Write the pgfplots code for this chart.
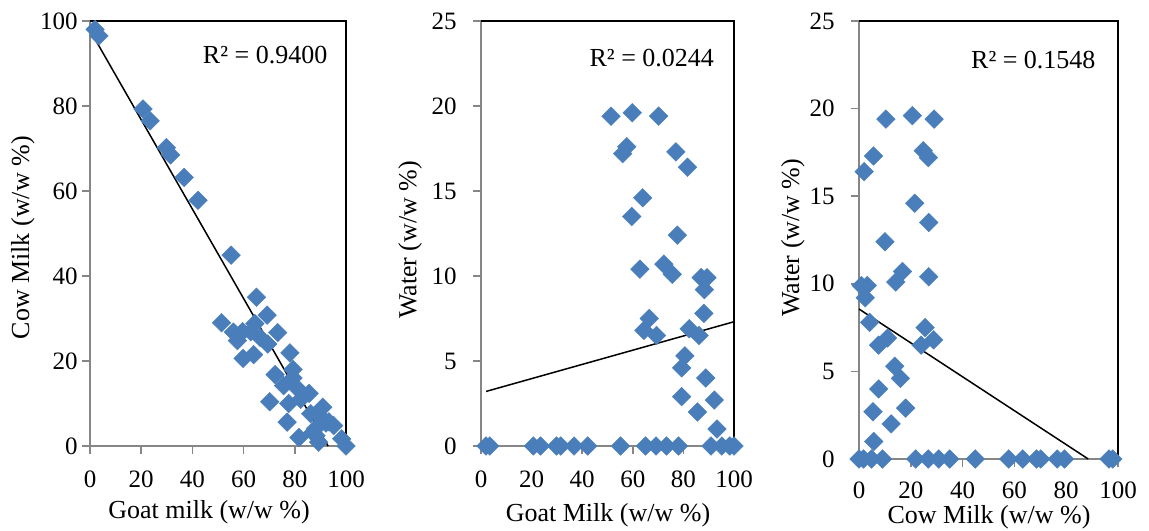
\documentclass[border=0pt]{standalone}
\usepackage{fontspec}
\setmainfont{Liberation Serif}
\usepackage{pgfplots}
\pgfplotsset{compat=1.18}
\usepackage{pgfplotstable}

\definecolor{excelblue}{RGB}{74,126,187}
\definecolor{axisgray}{RGB}{134,134,134}

% goat / cow / water contents of each mixture (w/w %)
\pgfplotstableread{
goat  cow   water
2.0   98.0  0
3.5   96.5  0
20.7  79.3  0
23.5  76.5  0
29.8  70.2  0
31.5  68.5  0
36.8  63.2  0
42.2  57.8  0
55.1  44.9  0
65.0  35.0  0
69.2  30.8  0
73.3  26.7  0
78.1  21.9  0
90.9  9.1   0
95.2  4.8   0
98.3  1.7   0
100.0 0.0   0
51.4  29.0  19.4
59.8  20.6  19.6
70.2  10.4  19.4
57.6  24.8  17.6
56.0  26.8  17.2
77.0  5.6   17.3
81.6  2.0   16.4
63.9  21.5  14.6
59.6  26.9  13.5
77.6  10.0  12.4
62.8  26.9  10.4
72.3  16.8  10.7
75.6  14.2  10.1
87.0  3.2   9.9
89.3  0.9   9.9
88.3  2.4   9.2
88.1  4.1   7.8
66.5  25.5  7.5
64.4  28.8  6.8
69.4  24.0  6.5
82.3  11.0  6.9
86.2  7.6   6.5
80.6  13.8  5.3
79.3  16.0  4.6
79.3  18.0  2.9
88.8  7.6   4.0
85.6  12.4  2.0
92.2  5.4   2.7
93.3  5.7   1.0
}\mixdata

\pgfplotsset{
  panel/.style={
    scale only axis, anchor=south west,
    axis lines*=left,
    axis line style={axisgray, line width=0.8pt},
    tick style={axisgray, line width=0.8pt},
    tick align=outside, major tick length=4pt,
    xmin=0, xmax=100, xtick={0,20,40,60,80,100},
    /pgf/number format/assume math mode=true,
    ticklabel style={font=\fontsize{12.5}{15}\selectfont, inner sep=0pt},
    label style={font=\fontsize{13}{15}\selectfont},
    clip=false,
  },
  milkpts/.style={only marks, mark=square*, mark size=3.3pt,
    mark options={rotate=45, fill=excelblue, draw=excelblue, line width=0.2pt}},
  trend/.style={black, line width=0.75pt, no marks},
}

\begin{document}
\begin{tikzpicture}
\path[use as bounding box] (0,0) rectangle (574.5pt,265pt);

% goat vs cow
\begin{axis}[panel, at={(45pt,42pt)}, width=128pt, height=212.5pt,
    ymin=0, ymax=100, ytick={0,20,40,60,80,100},
    yticklabel shift=2pt, xticklabel shift=8pt,
    xlabel={Goat milk (w/w \%)}, ylabel={Cow Milk (w/w \%)},
    xlabel style={at={(axis description cs:0.465,-0.155)}, anchor=center},
    ylabel style={at={(axis description cs:-0.262,0.49)}, anchor=center},
]
\draw[black, line width=0.8pt] (rel axis cs:0,1) -- (rel axis cs:1,1) -- (rel axis cs:1,0);
\addplot[milkpts] table[x=goat, y=cow] {\mixdata};
\addplot[trend] coordinates {(2,95.7) (93,0)};
\node[font=\fontsize{13}{15}\selectfont] at (axis cs:68.4,92) {R² = 0.9400};
\end{axis}

% goat vs water
\begin{axis}[panel, at={(240.5pt,42pt)}, width=126.5pt, height=212.5pt,
    ymin=0, ymax=25, ytick={0,5,10,15,20,25},
    yticklabel shift=8pt, xticklabel shift=8pt,
    xlabel={Goat Milk (w/w \%)}, ylabel={Water (w/w \%)},
    xlabel style={at={(axis description cs:0.502,-0.162)}, anchor=center},
    ylabel style={at={(axis description cs:-0.28,0.485)}, anchor=center},
]
\draw[black, line width=0.8pt] (rel axis cs:0,1) -- (rel axis cs:1,1) -- (rel axis cs:1,0);
\addplot[milkpts] table[x=goat, y=water] {\mixdata};
\addplot[trend] coordinates {(2,3.21) (100,7.31)};
\node[font=\fontsize{13}{15}\selectfont] at (axis cs:67.5,22.8) {R² = 0.0244};
\end{axis}

% cow vs water
\begin{axis}[panel, at={(429.5pt,35.5pt)}, width=129.5pt, height=219pt,
    ymin=0, ymax=25, ytick={0,5,10,15,20,25},
    yticklabel shift=8pt, xticklabel shift=7pt,
    xlabel={Cow Milk (w/w \%)}, ylabel={Water (w/w \%)},
    xlabel style={at={(axis description cs:0.502,-0.132)}, anchor=center},
    ylabel style={at={(axis description cs:-0.255,0.505)}, anchor=center},
]
\draw[black, line width=0.8pt] (rel axis cs:0,1) -- (rel axis cs:1,1) -- (rel axis cs:1,0);
\addplot[milkpts] table[x=cow, y=water] {\mixdata};
\addplot[trend] coordinates {(0,8.56) (88.5,0)};
\node[font=\fontsize{13}{15}\selectfont] at (axis cs:67.3,22.8) {R² = 0.1548};
\end{axis}
\end{tikzpicture}
\end{document}
